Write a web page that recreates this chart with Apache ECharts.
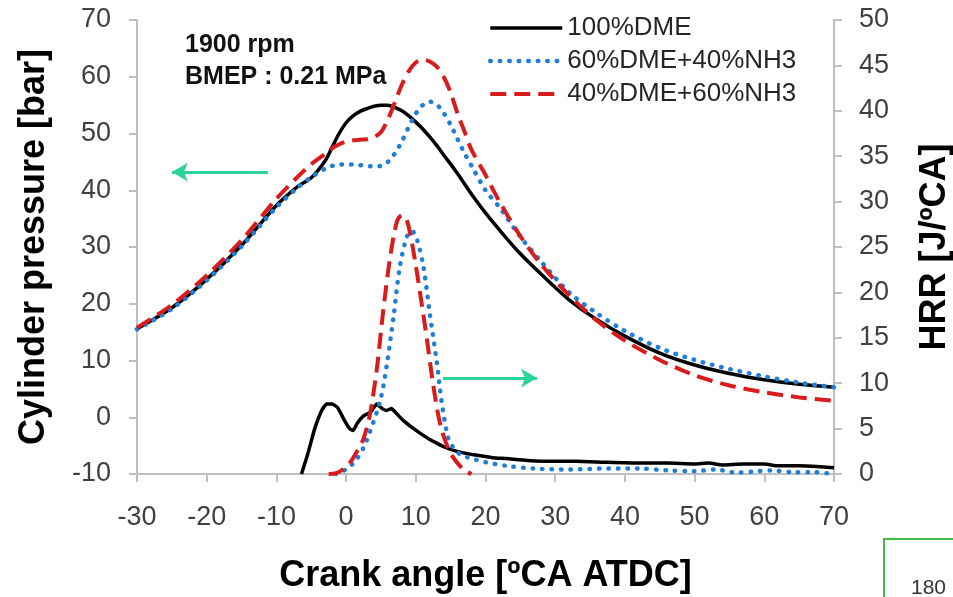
<!DOCTYPE html>
<html>
<head>
<meta charset="utf-8">
<script src="https://cdn.jsdelivr.net/npm/echarts@6/dist/echarts.min.js"></script>
<style>
  html, body { margin: 0; padding: 0; background: #fff; }
  #chart { width: 953px; height: 597px; }
</style>
</head>
<body>
<div id="chart"></div>
<script>
// ===== data =====
const names = ['100%DME', '60%DME+40%NH3', '40%DME+60%NH3'];

// cylinder pressure [bar]
const crankP = [-30, -25, -20, -15, -10, -7, -5, -3, -2, -1, 0, 1, 2, 3, 4, 5, 6, 7, 8, 9, 10,
  11, 12, 13, 14, 15, 16, 17, 18, 20, 22, 25, 28, 32, 36, 40, 45, 50, 55, 60, 65, 70];
const pDME = [15.6, 19.3, 24.3, 30.3, 37.3, 40.6, 42.2, 45.2, 47.6, 50.0, 51.9, 53.1, 53.9, 54.4, 54.8, 55.0, 55.0, 54.6, 54.0, 53.1, 52.0,
  50.8, 49.4, 47.9, 46.2, 44.6, 42.9, 41.1, 39.3, 36.0, 33.0, 28.8, 25.2, 20.7, 17.2, 14.3, 11.3, 9.2, 7.7, 6.6, 5.8, 5.3];
const pNH40 = [15.5, 19.1, 24.1, 30.1, 37.0, 40.4, 42.3, 43.8, 44.3, 44.5, 44.6, 44.5, 44.4, 44.3, 44.2, 44.3, 45.0, 46.5, 48.6, 51.2, 53.5,
  55.0, 55.6, 55.1, 53.6, 51.5, 49.0, 46.5, 44.3, 40.0, 37.0, 31.8, 27.4, 22.0, 18.3, 15.2, 12.2, 10.1, 8.5, 7.2, 6.1, 5.3];
const pNH60 = [15.8, 19.8, 25.0, 31.2, 38.5, 42.3, 44.6, 46.4, 47.4, 48.1, 48.6, 48.8, 48.9, 49.0, 49.4, 50.2, 52.5, 55.5, 58.6, 61.0, 62.5,
  63.0, 62.7, 61.8, 60.0, 57.2, 53.5, 50.3, 47.1, 42.7, 38.0, 31.9, 26.9, 21.5, 17.0, 13.5, 10.1, 7.4, 5.6, 4.4, 3.5, 2.9];

// heat release rate [J/ºCA]
const crankHDME = [-6.4, -5.5, -4.5, -3.5, -2.8, -2.0, -1.2, -0.3, 0.5, 1.0, 1.6, 2.5, 3.5, 4.4, 5.2, 5.8, 6.5, 7.3, 8.2, 9.5, 10.6,
  12, 13, 14, 15.4, 17, 18.5, 21, 23, 26, 30, 33, 37, 42, 46, 50, 52, 54, 57, 60, 62, 65, 68, 70];
const hDME = [0, 2.2, 5.0, 7.0, 7.7, 7.7, 7.3, 6.0, 5.0, 4.8, 5.6, 6.4, 6.8, 7.7, 7.2, 7.0, 7.2, 6.6, 5.9, 5.1, 4.5,
  3.8, 3.4, 3.0, 2.6, 2.3, 2.1, 1.8, 1.7, 1.5, 1.4, 1.4, 1.3, 1.2, 1.2, 1.1, 1.2, 1.0, 1.1, 1.1, 0.9, 0.9, 0.8, 0.7];
const crankHNH40 = [-1.5, -0.5, 0.5, 1.5, 2.5, 3.4, 4.9, 5.8, 6.8, 7.7, 8.7, 9.4, 10.1, 11.1, 12.0, 13.0, 13.7, 14.7, 15.5, 16.5,
  18.5, 20, 23, 27, 32, 37, 42, 46, 50, 53, 56, 59, 61, 64, 67, 70];
const hNH40 = [0, 0.3, 0.8, 1.6, 2.9, 4.6, 8.1, 11.8, 17.3, 22.8, 26.1, 26.8, 26.0, 22.8, 17.7, 12.4, 8.0, 3.8, 2.8, 2.1,
  1.6, 1.3, 0.9, 0.6, 0.5, 0.6, 0.6, 0.4, 0.3, 0.5, 0.15, 0.3, 0.4, 0.2, 0.2, 0];
const crankHNH60 = [-2.5, -1.4, -0.5, 0.6, 1.5, 2.5, 3.4, 4.4, 5.3, 6.3, 7.3, 8.0, 8.7, 9.6, 10.6, 11.6, 12.5, 13.5, 14.9, 16.8, 18];
const hNH60 = [0, 0.1, 0.5, 1.3, 2.4, 3.9, 6.5, 11.5, 17.8, 23.8, 27.8, 28.5, 28.0, 24.8, 20.0, 14.8, 9.8, 5.5, 2.4, 0.5, 0];

const colors = ['#000000', '#1f7fd8', '#d81c1c'];
const font = '"Liberation Sans", Arial, sans-serif';

function zip(xs, ys) {
  return xs.map((x, i) => [x, ys[i]]);
}

const styles = [
  { width: 3.5, type: 'solid', color: colors[0] },
  { width: 4.5, type: [0.5, 9], cap: 'round', color: colors[1] },
  { width: 4, type: [16, 8], color: colors[2] }
];

const arrowStyle = { color: '#2bd39b', width: 3, type: 'solid' };

const chart = echarts.init(document.getElementById('chart'));

const axisLineGray = { show: true, onZero: false, lineStyle: { color: '#bfbfbf', width: 2 } };
const tickGray = { show: true, length: 8, lineStyle: { color: '#bfbfbf', width: 2 } };

chart.setOption({
  animation: false,
  grid: { left: 137, right: 119, top: 20, bottom: 123, outerBoundsMode: 'none', containLabel: false },
  legend: {
    orient: 'vertical',
    left: 483,
    top: 10,
    itemWidth: 72,
    itemHeight: 20,
    itemGap: 7,
    data: names,
    itemStyle: { opacity: 0 },
    lineStyle: { width: 'inherit' },
    textStyle: { fontFamily: font, fontSize: 26, color: '#262626', lineHeight: 26 }
  },
  xAxis: {
    type: 'value',
    min: -30, max: 70, interval: 10,
    name: 'Crank angle [ºCA ATDC]',
    nameLocation: 'middle',
    nameGap: 84,
    nameTextStyle: { fontFamily: font, fontSize: 36, fontWeight: 'bold', color: '#000' },
    axisLine: axisLineGray,
    axisTick: tickGray,
    splitLine: { show: false },
    axisLabel: { margin: 30, fontFamily: font, fontSize: 27, color: '#404040' }
  },
  yAxis: [
    {
      type: 'value',
      min: -10, max: 70, interval: 10,
      name: 'Cylinder pressure [bar]',
      nameLocation: 'middle',
      nameGap: 85,
      nameTextStyle: { fontFamily: font, fontSize: 36, fontWeight: 'bold', color: '#000' },
      axisLine: axisLineGray,
      axisTick: tickGray,
      splitLine: { show: false },
      axisLabel: { margin: 26, fontFamily: font, fontSize: 27, color: '#404040' }
    },
    {
      type: 'value',
      min: 0, max: 50, interval: 5,
      name: 'HRR [J/ºCA]',
      nameLocation: 'middle',
      nameGap: 83,
      nameTextStyle: { fontFamily: font, fontSize: 36, fontWeight: 'bold', color: '#000' },
      axisLine: axisLineGray,
      axisTick: tickGray,
      splitLine: { show: false },
      axisLabel: { margin: 25, fontFamily: font, fontSize: 27, color: '#404040' }
    }
  ],
  series: [
    {
      name: names[0], type: 'line', yAxisIndex: 0, symbol: 'none', smooth: 0.3,
      lineStyle: styles[0], itemStyle: { color: colors[0] },
      data: zip(crankP, pDME),
      markLine: {
        silent: true,
        symbol: ['none', 'arrow'],
        symbolSize: [14, 16],
        label: { show: false },
        lineStyle: arrowStyle,
        itemStyle: { color: arrowStyle.color },
        data: [
          [{ coord: [-11.2, 43.2] }, { coord: [-25.0, 43.2] }],
          [{ coord: [13.9, 6.9] }, { coord: [27.4, 6.9] }]
        ]
      }
    },
    {
      name: names[0], type: 'line', yAxisIndex: 1, symbol: 'none', smooth: 0.15,
      lineStyle: styles[0], itemStyle: { color: colors[0] },
      data: zip(crankHDME, hDME)
    },
    {
      name: names[1], type: 'line', yAxisIndex: 0, symbol: 'none', smooth: 0.3,
      lineStyle: styles[1], itemStyle: { color: colors[1] },
      data: zip(crankP, pNH40)
    },
    {
      name: names[1], type: 'line', yAxisIndex: 1, symbol: 'none', smooth: 0.3,
      lineStyle: styles[1], itemStyle: { color: colors[1] },
      data: zip(crankHNH40, hNH40)
    },
    {
      name: names[2], type: 'line', yAxisIndex: 0, symbol: 'none', smooth: 0.3,
      lineStyle: styles[2], itemStyle: { color: colors[2] },
      data: zip(crankP, pNH60)
    },
    {
      name: names[2], type: 'line', yAxisIndex: 1, symbol: 'none', smooth: 0.3,
      lineStyle: styles[2], itemStyle: { color: colors[2] },
      data: zip(crankHNH60, hNH60)
    }
  ],
  graphic: [
    {
      type: 'text', left: 185, top: 33,
      style: { text: '1900 rpm', font: 'bold 25px ' + font, fill: '#111' }
    },
    {
      type: 'text', left: 185, top: 65,
      style: { text: 'BMEP : 0.21 MPa', font: 'bold 25px ' + font, fill: '#111' }
    },
    {
      type: 'rect',
      shape: { x: 884, y: 539, width: 120, height: 100 },
      style: { fill: 'none', stroke: '#45b845', lineWidth: 2 }
    },
    {
      type: 'text', left: 911, top: 578,
      style: { text: '180', font: '21px ' + font, fill: '#333' }
    }
  ]
});
</script>
</body>
</html>
